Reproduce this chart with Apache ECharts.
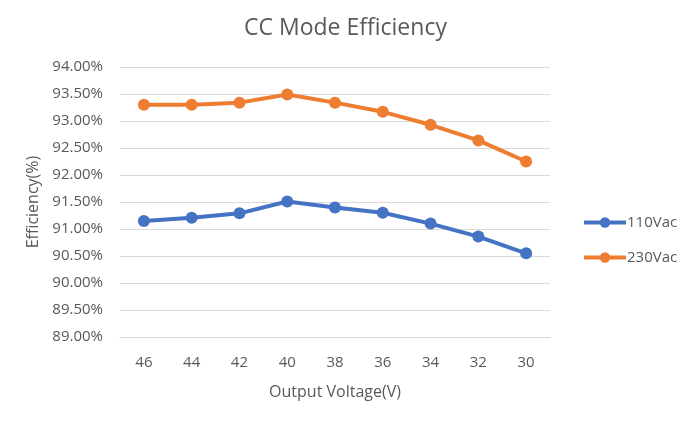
<!DOCTYPE html>
<html><head><meta charset="utf-8">
<script src="https://cdn.jsdelivr.net/npm/echarts@6/dist/echarts.min.js"></script>
<style>html,body{margin:0;padding:0;background:#fff}#c{width:691px;height:424px}</style>
</head><body><div id="c"></div>
<script>
const categories = ['46','44','42','40','38','36','34','32','30'];
const s110 = [91.15, 91.21, 91.29, 91.51, 91.40, 91.30, 91.10, 90.86, 90.55];
const s230 = [93.30, 93.30, 93.34, 93.49, 93.34, 93.17, 92.93, 92.64, 92.25];
const seriesNames = ['110Vac', '230Vac'];
const font = '"Open Sans", "Liberation Sans", sans-serif';
const chart = echarts.init(document.getElementById('c'));
chart.setOption({
  animation: false,
  color: ['#4472C4', '#ED7D31'],
  title: { text: 'CC Mode Efficiency', left: 'center', top: 12,
    textStyle: { fontFamily: font, fontSize: 23, fontWeight: 'normal', color: '#595959' } },
  legend: { orient: 'vertical', left: 577, top: 210, itemGap: 20, itemWidth: 42, itemHeight: 13,
    data: seriesNames, lineStyle: { width: 4 },
    textStyle: { fontFamily: font, fontSize: 15, color: '#595959', padding: [0,0,0,-4] } },
  grid: { left: 120, right: 141, top: 67, bottom: 87 },
  xAxis: { type: 'category', data: categories, boundaryGap: true,
    name: 'Output Voltage(V)', nameLocation: 'middle', nameGap: 47,
    nameTextStyle: { fontFamily: font, fontSize: 16, color: '#595959' },
    axisLine: { show: true, lineStyle: { color: '#d9d9d9' } }, axisTick: { show: false },
    axisLabel: { fontFamily: font, fontSize: 15, color: '#595959', margin: 18 } },
  yAxis: { type: 'value', min: 89, max: 94, interval: 0.5,
    name: 'Efficiency(%)', nameLocation: 'middle', nameGap: 79,
    nameTextStyle: { fontFamily: font, fontSize: 16, color: '#595959' },
    axisLine: { show: false }, axisTick: { show: false },
    splitLine: { lineStyle: { color: '#d9d9d9', width: 1 } },
    axisLabel: { fontFamily: font, fontSize: 15, color: '#595959', margin: 17,
      formatter: v => v.toFixed(2) + '%' } },
  series: [
    { name: seriesNames[0], type: 'line', data: s110, symbol: 'circle', symbolSize: 12,
      lineStyle: { width: 4 } },
    { name: seriesNames[1], type: 'line', data: s230, symbol: 'circle', symbolSize: 12,
      lineStyle: { width: 4 } }
  ]
});
</script></body></html>
